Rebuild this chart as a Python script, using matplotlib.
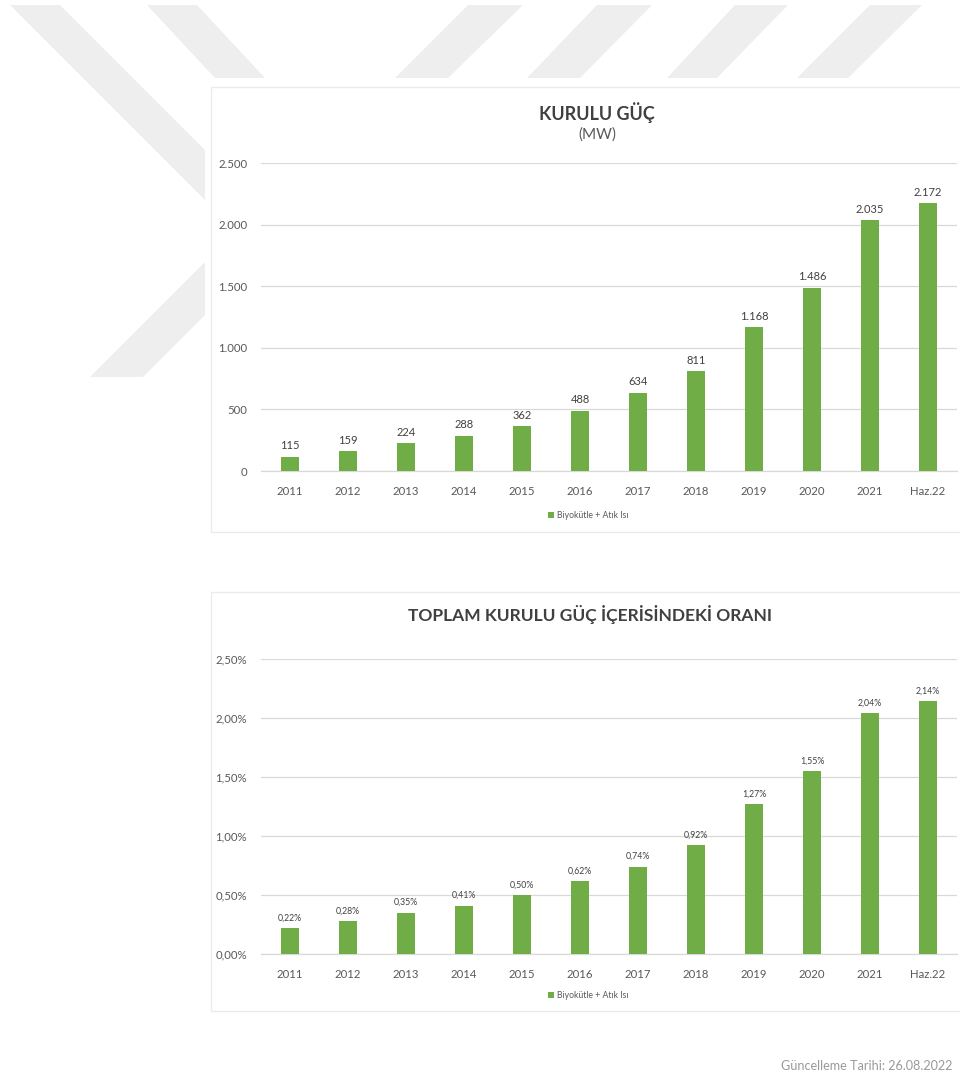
#! python3

# INSTALLED CAPACITY CHARTS

import matplotlib
matplotlib.use('Agg')
import matplotlib.pyplot as plt
from matplotlib.patches import Polygon, Rectangle

plt.rcParams['font.family'] = ['Lato', 'DejaVu Sans']


# DATA

categories = ['2011', '2012', '2013', '2014', '2015', '2016',
	'2017', '2018', '2019', '2020', '2021', 'Haz.22']
capacity_mw = [115, 159, 224, 288, 362, 488, 634, 811, 1168, 1486, 2035, 2172]
share_pct = [0.22, 0.28, 0.35, 0.41, 0.50, 0.62, 0.74, 0.92, 1.27, 1.55, 2.04, 2.14]
series_name = 'Biyokütle + Atık Isı'

title_mw = 'KURULU GÜÇ'
subtitle_mw = '(MW)'
title_share = 'TOPLAM KURULU GÜÇ İÇERİSİNDEKİ ORANI'
footer = 'Güncelleme Tarihi: 26.08.2022'

GREEN = '#70ad47'
DARK = '#404040'
GREY = '#595959'
GRID = '#d9d9d9'
STRIPE = '#eeeeee'

W, H = 960, 1076


def fmt_thousands(v):
	# Turkish style: dot as thousands separator
	return f'{v:,.0f}'.replace(',', '.')


def fmt_pct(v):
	return f'{v:.2f}'.replace('.', ',') + '%'


def px_axes(fig, left, top, right, bottom):
	# Axes placed by pixel box (top-left origin)
	return fig.add_axes([left / W, 1 - bottom / H, (right - left) / W, (bottom - top) / H])


def draw_background(fig):
	ax = fig.add_axes([0, 0, 1, 1], zorder=0)
	ax.set_xlim(0, W)
	ax.set_ylim(H, 0)
	ax.axis('off')

	# faint diagonal stripes behind the charts
	stripes = [
		[(10, 5), (60, 5), (360, 305), (310, 305)],
		[(90, 377), (143, 377), (300, 220), (300, 167)],
		[(147, 5), (197, 5), (265, 78), (215, 78)],
		[(468, 5), (523, 5), (448, 78), (395, 78)],
		[(597, 5), (652, 5), (580, 78), (527, 78)],
		[(735, 5), (788, 5), (717, 78), (667, 78)],
		[(870, 5), (922, 5), (848, 78), (797, 78)],
	]
	for pts in stripes:
		ax.add_patch(Polygon(pts, closed=True, facecolor=STRIPE, edgecolor='none'))

	# white area holding the two chart panels
	ax.add_patch(Rectangle((205, 78), W - 205, H - 78, facecolor='white', edgecolor='none'))
	ax.add_patch(Rectangle((211, 87), 760, 445, facecolor='white', edgecolor='#ebebeb', lw=1.0))
	ax.add_patch(Rectangle((211, 592), 760, 419, facecolor='white', edgecolor='#ebebeb', lw=1.0))

	ax.text(781, 1066, footer, color='#9a9a9a', fontsize=9.1, va='center', ha='left')
	return ax


def bar_chart(ax, values, ymax, step, tick_fmt, label_fmt, label_size):
	x = range(len(categories))
	ax.bar(x, values, width=0.31, color=GREEN, zorder=3)
	for xi, v in zip(x, values):
		ax.annotate(label_fmt(v), (xi, v), textcoords='offset points',
			xytext=(0, 4), ha='center', va='bottom', fontsize=label_size, color=DARK)

	ax.set_xlim(-0.5, len(categories) - 0.5)
	ax.set_ylim(0, ymax)
	ticks = [i * step for i in range(int(round(ymax / step)) + 1)]
	ax.set_yticks(ticks)
	ax.set_yticklabels([tick_fmt(t) for t in ticks])
	ax.set_xticks(list(x))
	ax.set_xticklabels(categories)

	for side in ['top', 'right', 'left']:
		ax.spines[side].set_visible(False)
	ax.spines['bottom'].set_color(GRID)
	ax.spines['bottom'].set_linewidth(0.9)
	ax.grid(axis='y', color=GRID, linewidth=0.9, zorder=0)
	ax.set_axisbelow(True)
	ax.tick_params(length=0, labelsize=8.2, labelcolor=GREY)
	ax.tick_params(axis='y', pad=10)
	ax.tick_params(axis='x', pad=11)
	ax.patch.set_alpha(0)


def legend_key(fig, xc, yc):
	ax = fig.axes[0]
	ax.add_patch(Rectangle((xc - 46, yc - 3), 6, 6, facecolor=GREEN, edgecolor='none', zorder=5))
	ax.text(xc - 37, yc, series_name, fontsize=6.2, color=GREY, va='center', ha='left', zorder=5)


def main():
	fig = plt.figure(figsize=(W / 100, H / 100), dpi=100)
	fig.patch.set_facecolor('white')
	bg = draw_background(fig)

	# Chart 1: installed capacity (MW)
	ax1 = px_axes(fig, 261, 163, 957, 471)
	bar_chart(ax1, capacity_mw, 2500, 500, fmt_thousands, fmt_thousands, 8.0)
	bg.text(597, 113, title_mw, fontsize=13, fontweight='bold', color=DARK, ha='center', va='center')
	bg.text(597, 135, subtitle_mw, fontsize=11, color=GREY, ha='center', va='center')
	legend_key(fig, 594, 515)

	# Chart 2: share in total installed capacity
	ax2 = px_axes(fig, 261, 659, 957, 954)
	bar_chart(ax2, share_pct, 2.5, 0.5, fmt_pct, fmt_pct, 6.3)
	bg.text(590, 614, title_share, fontsize=12.5, fontweight='bold', color=DARK, ha='center', va='center')
	legend_key(fig, 594, 995)

	fig.savefig('out.png', dpi=100)


if __name__ == '__main__':
	main()
